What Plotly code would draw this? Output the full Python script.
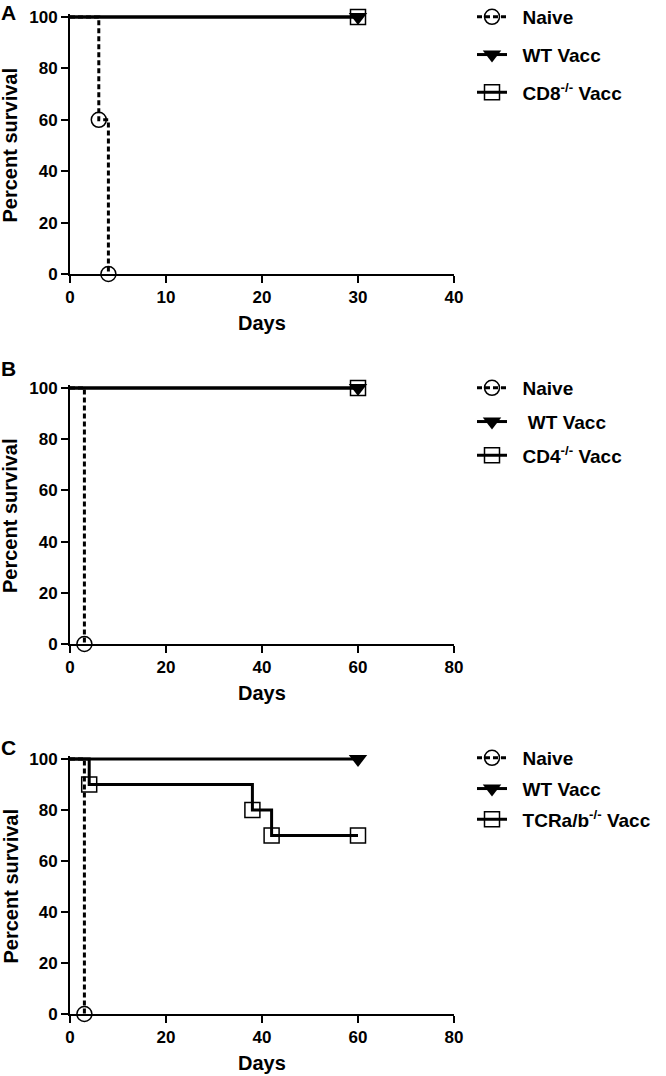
import plotly.graph_objects as go

# ---------------- data (Kaplan-Meier step points; first point = start) ----------------
# Panel A
a_naive_days = [0, 3, 4]
a_naive_surv = [100, 60, 0]
a_wt_days = [0, 30]
a_wt_surv = [100, 100]
a_ko_days = [0, 30]
a_ko_surv = [100, 100]
a_ko_name = "CD8<sup>-/-</sup> Vacc"
a_wt_name = "WT Vacc"

# Panel B
b_naive_days = [0, 3]
b_naive_surv = [100, 0]
b_wt_days = [0, 60]
b_wt_surv = [100, 100]
b_ko_days = [0, 60]
b_ko_surv = [100, 100]
b_ko_name = "CD4<sup>-/-</sup> Vacc"
b_wt_name = "\u00a0WT Vacc"

# Panel C
c_naive_days = [0, 3]
c_naive_surv = [100, 0]
c_wt_days = [0, 60]
c_wt_surv = [100, 100]
c_ko_days = [0, 4, 38, 42, 60]
c_ko_surv = [100, 90, 80, 70, 70]
c_ko_name = "TCRa/b<sup>-/-</sup> Vacc"
c_wt_name = "WT Vacc"

x_max = [40, 80, 80]
x_dtick = [10, 20, 20]
y_ticks = [0, 20, 40, 60, 80, 100]
letters = ["A", "B", "C"]

# ---------------- layout geometry ----------------
W, H = 666, 1076
FONT = "Liberation Sans, Arial, sans-serif"
x_left_px, x_right_px = 70, 454
panel_px = [(17, 274), (388, 644), (759, 1014)]  # (y=100 px, y=0 px)
letter_px = [12, 368, 747]
legend_top_px = [-2, 369, 739]
legend_gap = [10, 6, 3]
YMAX = 101.0

def px_x(p):
    return p / W

def px_y(p):
    return 1 - p / H

fig = go.Figure()

panels = [
    (a_naive_days, a_naive_surv, a_wt_days, a_wt_surv, a_ko_days, a_ko_surv, a_wt_name, a_ko_name),
    (b_naive_days, b_naive_surv, b_wt_days, b_wt_surv, b_ko_days, b_ko_surv, b_wt_name, b_ko_name),
    (c_naive_days, c_naive_surv, c_wt_days, c_wt_surv, c_ko_days, c_ko_surv, c_wt_name, c_ko_name),
]

pad = "\u00a0\u00a0"
annotations = []
for i, (nd, ns, wd, ws, kd, ks, wname, kname) in enumerate(panels):
    sfx = "" if i == 0 else str(i + 1)
    xa, ya = "x" + sfx, "y" + sfx
    leg = "legend" + sfx
    series = [
        (nd, ns, "Naive", dict(color="black", width=3, dash="5px,3px"),
         dict(symbol="circle-open", size=15, color="black", line=dict(width=1.5, color="black"))),
        (wd, ws, wname, dict(color="black", width=3),
         dict(symbol="triangle-down", size=16, color="black", line=dict(width=0))),
        (kd, ks, kname, dict(color="black", width=3),
         dict(symbol="square-open", size=15, color="black", line=dict(width=1.5, color="black"))),
    ]
    for j, (xs, ys, name, line, marker) in enumerate(series):
        fig.add_trace(go.Scatter(
            x=xs, y=ys, mode="lines+markers", line_shape="hv",
            name=pad + name, line=line, marker=marker,
            selectedpoints=list(range(1, len(xs))),
            selected=dict(marker=dict(opacity=1)),
            unselected=dict(marker=dict(opacity=0)),
            cliponaxis=False, xaxis=xa, yaxis=ya, legend=leg,
            legendgroup=f"g{i}{j}", hoverinfo="skip",
        ))

    top, bot = panel_px[i]
    ppu = (bot - top) / 100.0
    dom_top = top - (YMAX - 100) * ppu
    axis_common = dict(
        showline=True, linecolor="black", linewidth=2, ticks="outside",
        ticklen=7, tickwidth=2, tickcolor="black", showgrid=False, zeroline=False,
        tickfont=dict(family=FONT, size=17, color="black", weight="bold"),
        fixedrange=True, automargin=False,
    )
    fig.update_layout(**{
        "xaxis" + sfx: dict(domain=[px_x(x_left_px), px_x(x_right_px)], range=[0, x_max[i]],
                            tick0=0, dtick=x_dtick[i], anchor=ya, **axis_common),
        "yaxis" + sfx: dict(domain=[px_y(bot), px_y(dom_top)], range=[0, YMAX],
                            tickvals=y_ticks, anchor=xa, **axis_common),
        leg: dict(x=px_x(472), y=px_y(legend_top_px[i]), xanchor="left", yanchor="top",
                  font=dict(family=FONT, size=19, color="black", weight="bold"),
                  bgcolor="rgba(0,0,0,0)", traceorder="grouped",
                  tracegroupgap=legend_gap[i], itemclick=False, itemdoubleclick=False),
    })
    annotations.append(dict(text=letters[i], x=px_x(8), y=px_y(letter_px[i]), xref="paper", yref="paper",
                            showarrow=False, xanchor="center", yanchor="middle",
                            font=dict(family=FONT, size=21, color="black", weight="bold")))
    annotations.append(dict(text="Days", x=px_x((x_left_px + x_right_px) / 2), y=px_y(bot + 49),
                            xref="paper", yref="paper", showarrow=False,
                            xanchor="center", yanchor="middle",
                            font=dict(family=FONT, size=20, color="black", weight="bold")))
    annotations.append(dict(text="Percent survival", x=px_x(10), y=px_y((top + bot) / 2),
                            xref="paper", yref="paper", showarrow=False, textangle=-90,
                            xanchor="center", yanchor="middle",
                            font=dict(family=FONT, size=20, color="black", weight="bold")))

fig.update_layout(
    template=None,
    width=W, height=H, margin=dict(l=0, r=0, t=0, b=0, autoexpand=False),
    paper_bgcolor="white", plot_bgcolor="white",
    annotations=annotations, showlegend=True,
)

fig.write_html("out.html", config={"displayModeBar": False},
               post_script="document.body.style.margin='0';document.body.style.overflow='hidden';")
